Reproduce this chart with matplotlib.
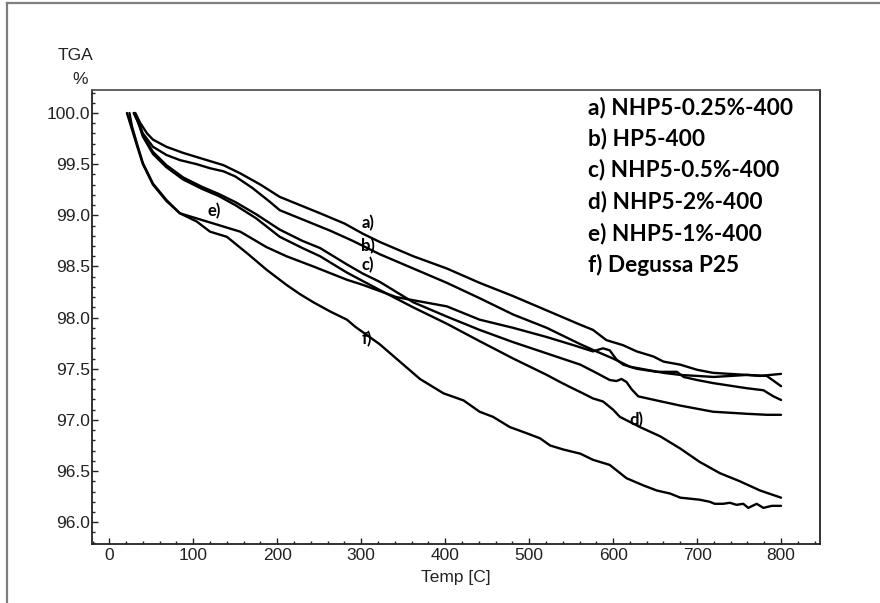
import matplotlib
matplotlib.use("Agg")
import matplotlib.pyplot as plt
from matplotlib.ticker import MultipleLocator, FormatStrFormatter
from matplotlib.lines import Line2D

# ---------------- data ----------------
a_T = [31, 37, 45, 52, 68, 88, 108, 136, 156, 180, 203, 227, 251, 280, 302, 322, 362, 402, 441, 481, 501, 521,
       561, 576, 592, 612, 628, 648, 660, 680, 700, 719, 739, 759, 783, 800]
a_v = [100.0, 99.90, 99.80, 99.74, 99.67, 99.61, 99.56, 99.49, 99.41, 99.30, 99.18, 99.10, 99.02, 98.92, 98.82,
       98.74, 98.60, 98.48, 98.34, 98.21, 98.14, 98.07, 97.93, 97.88, 97.78, 97.73, 97.67, 97.62, 97.57, 97.54,
       97.49, 97.46, 97.45, 97.44, 97.43, 97.33]

b_T = [29, 35, 40, 52, 68, 84, 104, 120, 136, 150, 170, 190, 203, 230, 251, 263, 290, 322, 362, 402, 441, 481,
       521, 561, 580, 600, 620, 640, 660, 680, 700, 720, 740, 760, 775, 800]
b_v = [100.0, 99.90, 99.80, 99.67, 99.59, 99.54, 99.50, 99.46, 99.43, 99.38, 99.27, 99.14, 99.05, 98.96, 98.89,
       98.85, 98.75, 98.62, 98.48, 98.34, 98.19, 98.03, 97.90, 97.74, 97.67, 97.60, 97.52, 97.49, 97.46, 97.44,
       97.43, 97.42, 97.43, 97.44, 97.43, 97.45]

c_T = [30, 36, 40, 52, 68, 88, 110, 130, 150, 175, 203, 230, 251, 283, 302, 322, 362, 402, 441, 481, 521, 561,
       580, 596, 604, 610, 616, 622, 630, 652, 680, 719, 759, 783, 800]
c_v = [100.0, 99.88, 99.78, 99.62, 99.49, 99.37, 99.28, 99.21, 99.13, 99.01, 98.86, 98.75, 98.68, 98.52, 98.43,
       98.35, 98.15, 98.01, 97.88, 97.76, 97.65, 97.54, 97.46, 97.39, 97.38, 97.40, 97.37, 97.30, 97.23, 97.19,
       97.14, 97.08, 97.06, 97.05, 97.05]

d_T = [30, 36, 40, 52, 68, 88, 110, 130, 150, 175, 203, 230, 251, 283, 322, 362, 402, 441, 481, 521, 537, 549,
       564, 576, 588, 600, 608, 632, 656, 680, 703, 727, 751, 775, 800]
d_v = [100.0, 99.87, 99.77, 99.60, 99.47, 99.35, 99.26, 99.19, 99.10, 98.97, 98.79, 98.68, 98.60, 98.44, 98.27,
       98.10, 97.94, 97.77, 97.60, 97.44, 97.37, 97.32, 97.26, 97.21, 97.18, 97.10, 97.03, 96.93, 96.84, 96.72,
       96.59, 96.48, 96.40, 96.31, 96.24]

e_T = [21, 24, 27, 33, 40, 52, 68, 84, 100, 128, 156, 187, 211, 243, 283, 302, 342, 402, 441, 481, 521, 553,
       576, 588, 596, 604, 612, 628, 652, 676, 684, 700, 719, 759, 779, 791, 800]
e_v = [100.0, 99.92, 99.84, 99.68, 99.50, 99.30, 99.14, 99.02, 98.98, 98.91, 98.84, 98.69, 98.60, 98.50, 98.37,
       98.32, 98.20, 98.11, 97.98, 97.90, 97.81, 97.73, 97.67, 97.70, 97.68, 97.59, 97.54, 97.50, 97.47, 97.47,
       97.42, 97.39, 97.36, 97.31, 97.29, 97.23, 97.195]

f_T = [24, 27, 33, 40, 52, 68, 84, 104, 120, 140, 164, 187, 211, 227, 243, 263, 283, 293, 322, 346, 370, 398,
       422, 441, 457, 477, 497, 513, 525, 541, 561, 576, 596, 616, 636, 652, 668, 680, 703, 715, 721, 731, 739,
       747, 755, 761, 771, 779, 789, 800]
f_v = [100.0, 99.87, 99.70, 99.51, 99.31, 99.15, 99.02, 98.94, 98.84, 98.79, 98.63, 98.47, 98.32, 98.23, 98.15,
       98.06, 97.98, 97.91, 97.74, 97.57, 97.40, 97.26, 97.19, 97.08, 97.03, 96.93, 96.87, 96.82, 96.75, 96.71,
       96.67, 96.61, 96.56, 96.43, 96.36, 96.31, 96.28, 96.24, 96.22, 96.20, 96.18, 96.18, 96.19, 96.17, 96.18,
       96.14, 96.18, 96.14, 96.16, 96.16]

series = [(a_T, a_v), (b_T, b_v), (c_T, c_v), (d_T, d_v), (e_T, e_v), (f_T, f_v)]

legend_lines = ["a) NHP5-0.25%-400", "b) HP5-400", "c) NHP5-0.5%-400",
                "d) NHP5-2%-400", "e) NHP5-1%-400", "f) Degussa P25"]

curve_tags = ["a)", "b)", "c)", "d)", "e)", "f)"]
tag_pos = [(308, 98.925), (308, 98.70), (308, 98.515), (628, 97.00), (125, 99.04), (307, 97.79)]

x_ticks = [0, 100, 200, 300, 400, 500, 600, 700, 800]

# ---------------- figure ----------------
W, H = 880, 603
fig = plt.figure(figsize=(W / 100, H / 100), dpi=100)
fig.patch.set_facecolor("white")

L, R, T, B = 92, 820, 90, 544
ax = fig.add_axes([L / W, 1 - B / H, (R - L) / W, (B - T) / H])

for Tv, vv in series:
    ax.plot(Tv, vv, color="black", lw=1.7, solid_joinstyle="round", solid_capstyle="round")

ax.set_xlim(-20.6, 846.4)
ax.set_ylim(95.787, 100.225)

ax.set_xticks(x_ticks)
ax.xaxis.set_minor_locator(MultipleLocator(20))
ax.yaxis.set_major_locator(MultipleLocator(0.5))
ax.yaxis.set_minor_locator(MultipleLocator(0.1))
ax.yaxis.set_major_formatter(FormatStrFormatter("%.1f"))

ax.tick_params(which="major", direction="in", length=4.5, width=1.0, color="#222222",
               labelsize=12.5, labelcolor="#222222", pad=3)
ax.tick_params(which="minor", direction="in", length=2.2, width=1.0, color="#222222")
ax.tick_params(axis="y", which="major", pad=1.5)
for lab in ax.get_xticklabels() + ax.get_yticklabels():
    lab.set_family(["Liberation Sans", "DejaVu Sans"])

for s in ax.spines.values():
    s.set_linewidth(1.3)
    s.set_color("#222222")
ax.spines["top"].set_color("#555555")

ax.set_xlabel("Temp [C]", fontsize=12.5, family=["Liberation Sans", "DejaVu Sans"],
              color="#222222", labelpad=5)

fig.text(93 / W, 1 - 55.5 / H, "TGA", ha="right", va="center", fontsize=12.5,
         family=["Liberation Sans", "DejaVu Sans"], color="#222222")
fig.text(88 / W, 1 - 79 / H, "%", ha="right", va="center", fontsize=12.5,
         family=["Liberation Sans", "DejaVu Sans"], color="#222222")

# legend text block
baselines = [114, 145.7, 176.7, 208, 240, 271.7]
for txt, yb in zip(legend_lines, baselines):
    fig.text(588 / W, 1 - yb / H, txt, ha="left", va="baseline", fontsize=16.3,
             fontweight="bold", family=["Lato", "DejaVu Sans"], color="black")

# curve tags
for tag, (tx, tv) in zip(curve_tags, tag_pos):
    ax.text(tx, tv, tag, ha="center", va="center", fontsize=12, fontweight="bold",
            family=["Lato", "DejaVu Sans"], color="black")

# outer frame (visible left and top edges)
fig.add_artist(Line2D([7 / W, 7 / W], [0, 1 - 3 / H], transform=fig.transFigure,
                      color="#7f7f7f", lw=1.6))
fig.add_artist(Line2D([7 / W, 1], [1 - 3 / H, 1 - 3 / H], transform=fig.transFigure,
                      color="#7f7f7f", lw=1.6))

fig.savefig("out.png", dpi=100, facecolor="white")
